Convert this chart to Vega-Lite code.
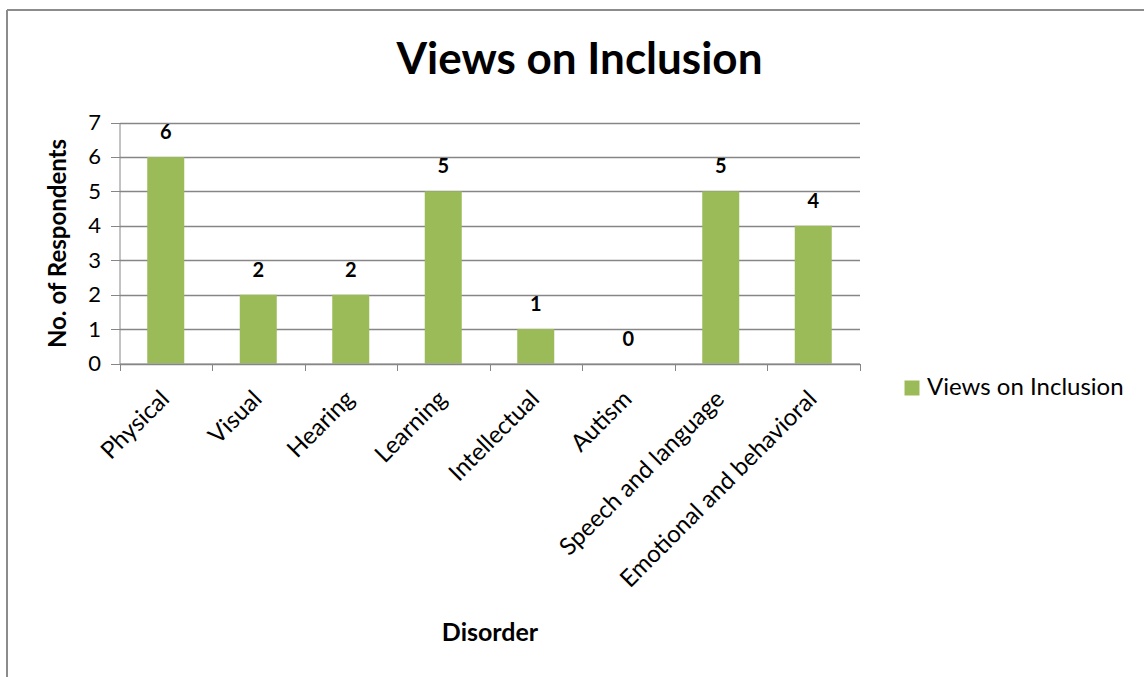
{
  "$schema": "https://vega.github.io/schema/vega-lite/v6.json",
  "width": 1137,
  "height": 667,
  "autosize": {"type": "none"},
  "padding": {"left": 7, "top": 10, "right": 0, "bottom": 0},
  "background": "white",
  "view": {"stroke": "#8c8c8c", "strokeWidth": 2, "strokeDash": [1137, 1804, 667, 0]},
  "config": {
    "font": "Lato",
    "view": {"stroke": "#8c8c8c", "strokeWidth": 2, "strokeDash": [1137, 1804, 667, 0]},
    "style": {"cell": {"stroke": "#8c8c8c", "strokeWidth": 2, "strokeDash": [1137, 1804, 667, 0]}},
    "axis": {"domainColor": "#868686", "tickColor": "#868686", "labelColor": "black", "titleColor": "black", "labelFont": "Lato", "titleFont": "Lato"}
  },
  "title": {"text": "Views on Inclusion", "font": "Lato", "fontSize": 44, "fontWeight": "bold", "color": "black", "anchor": "middle", "baseline": "alphabetic", "offset": 0, "dx": 4, "dy": 108},
  "data": {
    "values": [
      {"disorder": "Physical", "count": 6, "series": "Views on Inclusion"},
      {"disorder": "Visual", "count": 2, "series": "Views on Inclusion"},
      {"disorder": "Hearing", "count": 2, "series": "Views on Inclusion"},
      {"disorder": "Learning", "count": 5, "series": "Views on Inclusion"},
      {"disorder": "Intellectual", "count": 1, "series": "Views on Inclusion"},
      {"disorder": "Autism", "count": 0, "series": "Views on Inclusion"},
      {"disorder": "Speech and language", "count": 5, "series": "Views on Inclusion"},
      {"disorder": "Emotional and behavioral", "count": 4, "series": "Views on Inclusion"}
    ]
  },
  "layer": [
    {
      "mark": {"type": "bar", "width": {"band": 0.4}},
      "encoding": {
        "x": {
          "field": "disorder", "type": "nominal", "sort": null,
          "scale": {"range": [112.5, 852.5], "paddingInner": 0, "paddingOuter": 0},
          "axis": {
            "orient": "bottom", "offset": -313.5, "tickBand": "extent", "tickSize": 7,
            "labelAngle": -45, "labelAlign": "right", "labelBaseline": "top",
            "labelFontSize": 24, "labelPadding": 16, "labelOffset": -9, "labelLimit": 400,
            "title": "Disorder", "titleFontSize": 25, "titleFontWeight": "bold",
            "titleBaseline": "alphabetic", "titleY": 276.5, "zindex": 1
          }
        },
        "y": {
          "field": "count", "type": "quantitative",
          "scale": {"domain": [0, 7], "range": [353.5, 112.5], "nice": false, "zero": true},
          "axis": {
            "orient": "left", "offset": -112.5, "values": [0, 1, 2, 3, 4, 5, 6, 7],
            "grid": false, "tickSize": 9, "labelFontSize": 22, "labelPadding": 10,
            "title": "No. of Respondents", "titleFontSize": 24, "titleFontWeight": "bold",
            "titlePadding": 17, "zindex": 1
          }
        },
        "color": {
          "field": "series", "type": "nominal",
          "scale": {"range": ["#9BBB59"]},
          "legend": {
            "orient": "none", "legendX": 893, "legendY": 366, "title": null,
            "padding": 0, "symbolType": "square", "symbolSize": 225, "symbolStrokeWidth": 0,
            "symbolOpacity": 1, "labelFontSize": 24, "labelColor": "black", "labelOffset": 3,
            "labelLimit": 400
          }
        }
      }
    },
    {
      "mark": {"type": "text", "fontSize": 20, "fontWeight": "bold", "baseline": "alphabetic", "dy": -18, "color": "black"},
      "encoding": {
        "x": {"field": "disorder", "type": "nominal", "sort": null},
        "y": {
          "field": "count", "type": "quantitative",
          "axis": {
            "orient": "right", "offset": -1024.5, "values": [0, 1, 2, 3, 4, 5, 6, 7],
            "grid": false, "domain": false, "labels": false, "title": null,
            "tickSize": 740, "tickColor": "#868686", "tickWidth": 1.5, "zindex": 0
          }
        },
        "text": {"field": "count", "type": "quantitative"}
      }
    }
  ],
  "resolve": {"axis": {"y": "independent"}}
}
